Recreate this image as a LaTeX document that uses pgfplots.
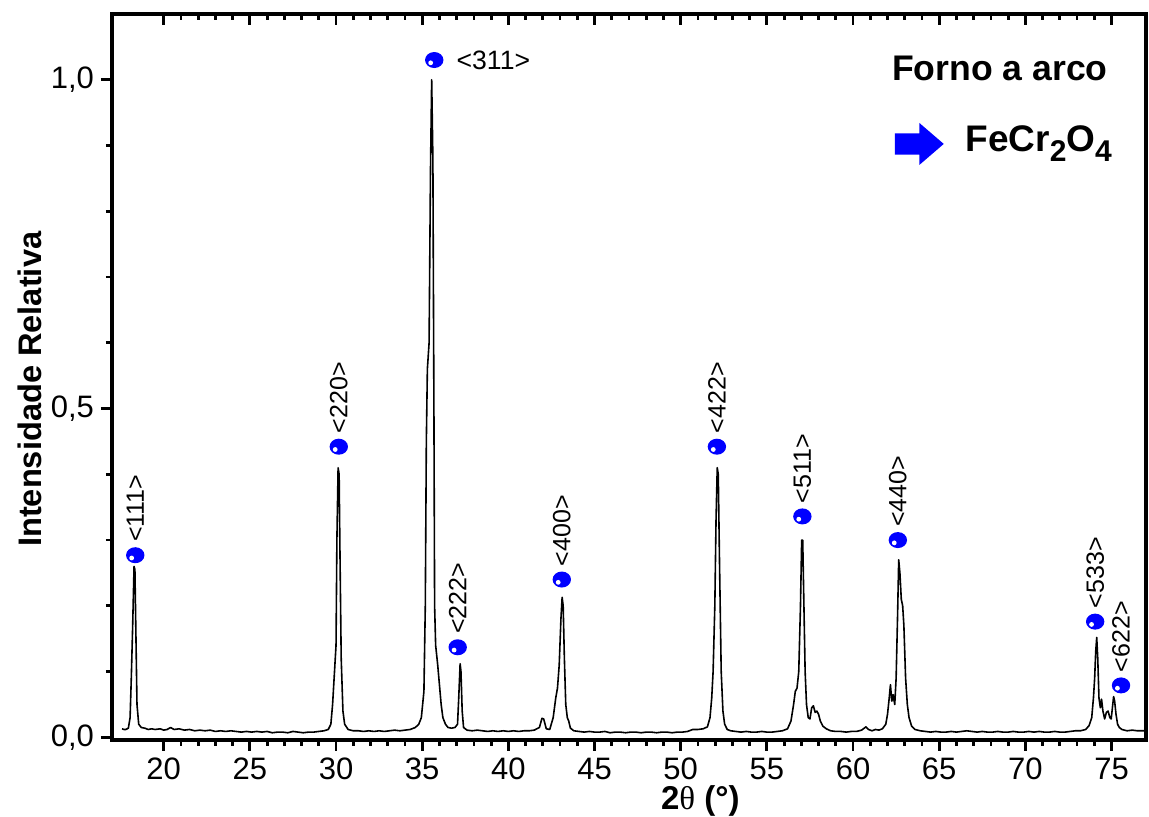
\documentclass[border=0pt]{standalone}
\usepackage{fontspec}
\setmainfont{Liberation Sans}
\newfontfamily\serifgreek{Liberation Serif}
\usepackage{pgfplots}
\pgfplotsset{compat=1.18}

\pgfdeclareplotmark{xrdball}{%
  \pgfsetfillcolor{blue}%
  \pgfpathellipse{\pgfpointorigin}{\pgfpoint{4.6pt}{0pt}}{\pgfpoint{0pt}{4pt}}%
  \pgfusepathqfill
  \pgfsetfillcolor{white}%
  \pgfpathcircle{\pgfpoint{-1.8pt}{-1.4pt}}{1.2pt}%
  \pgfusepathqfill
}
\newcommand{\lab}{\fontsize{12.5}{14}\selectfont}

\begin{document}
\begin{tikzpicture}
\useasboundingbox (-56pt,-38.5pt) rectangle (518.5pt,370pt);
\begin{axis}[
  scale only axis, width=517pt, height=363pt,
  at={(0,0)}, anchor=south west,
  xmin=17, xmax=77, ymin=-0.004, ymax=1.1,
  xtick={20,25,...,75}, minor x tick num=4,
  ytick={0,0.5,1}, minor y tick num=4,
  xtick pos=left, ytick pos=left,
  tick align=outside,
  major tick length=5.5pt, minor tick length=3pt,
  tick style={black, line width=1.4pt},
  axis line style={line width=1.6pt},
  /pgf/number format/assume math mode=true,
  tick label style={font=\fontsize{15.5}{18}\selectfont},
  yticklabel style={/pgf/number format/.cd, fixed, fixed zerofill, precision=1, use comma},
  xticklabel style={/pgf/number format/.cd, fixed, precision=0},
  xlabel={\bfseries 2{\serifgreek\mdseries θ} (°)},
  xlabel style={font=\fontsize{16.5}{19}\selectfont, at={(axis description cs:0.569,-0.084)}, anchor=center},
  ylabel={Intensidade Relativa},
  ylabel style={font=\bfseries\fontsize{16.3}{19}\selectfont, at={(axis description cs:-0.079,0.483)}, anchor=center},
  clip mode=individual,
]
\addplot[black, line width=0.8pt, line join=round] coordinates {
(17.58,0.013) (17.7,0.012) (17.8,0.012) (17.95,0.014) (18.05,0.03) (18.12,0.09) (18.2,0.17) (18.28,0.26) (18.33,0.255) (18.38,0.17) (18.45,0.05) (18.55,0.02) (18.7,0.015)
(18.9,0.014) (19.1,0.012) (19.3,0.013) (19.5,0.012) (19.8,0.013) (20.0,0.011) (20.2,0.012) (20.4,0.015) (20.6,0.012) (20.9,0.013) (21.2,0.011) (21.5,0.012) (21.8,0.010) (22.1,0.011) (22.4,0.010) (22.7,0.011) (23.0,0.009) (23.3,0.010) (23.6,0.009) (23.9,0.010) (24.2,0.009) (24.5,0.008) (24.8,0.009) (25.1,0.008) (25.4,0.009) (25.7,0.008) (26.0,0.009) (26.3,0.007) (26.6,0.008) (26.9,0.008) (27.2,0.007) (27.5,0.009) (27.8,0.008) (28.1,0.007) (28.4,0.008) (28.7,0.008) (29.0,0.009) (29.3,0.010) (29.55,0.012)
(29.7,0.02) (29.8,0.05) (29.9,0.095) (30.0,0.14) (30.05,0.3) (30.12,0.41) (30.18,0.40) (30.22,0.3) (30.3,0.12) (30.4,0.04) (30.5,0.02) (30.7,0.012) (31.0,0.010)
(31.3,0.010) (31.6,0.009) (31.9,0.010) (32.2,0.009) (32.5,0.010) (32.8,0.009) (33.1,0.010) (33.4,0.011) (33.7,0.010) (34.0,0.011) (34.3,0.012) (34.6,0.015)
(34.8,0.02) (34.95,0.03) (35.1,0.07) (35.18,0.2) (35.24,0.45) (35.3,0.56) (35.4,0.6) (35.48,0.86) (35.55,1.0) (35.62,0.88) (35.68,0.5) (35.72,0.2) (35.78,0.14) (35.9,0.11) (36.0,0.08) (36.1,0.05) (36.2,0.03) (36.35,0.02) (36.5,0.015) (36.7,0.014) (36.9,0.015) (37.05,0.02) (37.12,0.06) (37.2,0.112) (37.25,0.10) (37.32,0.04) (37.4,0.015) (37.6,0.011)
(37.9,0.010) (38.2,0.011) (38.5,0.010) (38.8,0.009) (39.1,0.010) (39.4,0.009) (39.7,0.010) (40.0,0.009) (40.3,0.010) (40.6,0.009) (40.9,0.010) (41.2,0.010) (41.5,0.011) (41.8,0.015) (41.95,0.029) (42.05,0.028) (42.2,0.013) (42.4,0.012) (42.6,0.03) (42.75,0.06) (42.85,0.075) (42.95,0.11) (43.05,0.18) (43.12,0.213) (43.18,0.2) (43.25,0.12) (43.33,0.05) (43.42,0.03) (43.5,0.025) (43.6,0.014) (43.8,0.010)
(44.1,0.009) (44.4,0.008) (44.7,0.009) (45.0,0.008) (45.3,0.008) (45.6,0.009) (45.9,0.007) (46.2,0.008) (46.5,0.008) (46.8,0.007) (47.1,0.008) (47.4,0.008) (47.7,0.007) (48.0,0.008) (48.3,0.008) (48.6,0.007) (48.9,0.008) (49.2,0.008) (49.5,0.007) (49.8,0.008) (50.1,0.008) (50.4,0.009) (50.7,0.012) (51.0,0.012) (51.3,0.013) (51.55,0.016)
(51.7,0.03) (51.8,0.06) (51.88,0.1) (51.98,0.2) (52.05,0.33) (52.12,0.41) (52.18,0.40) (52.25,0.27) (52.35,0.1) (52.45,0.04) (52.55,0.02) (52.7,0.012) (52.9,0.010)
(53.2,0.009) (53.5,0.008) (53.8,0.009) (54.1,0.008) (54.4,0.008) (54.7,0.009) (55.0,0.008) (55.3,0.008) (55.6,0.009) (55.9,0.010) (56.2,0.013)
(56.4,0.025) (56.55,0.05) (56.65,0.07) (56.75,0.075) (56.85,0.1) (56.95,0.2) (57.02,0.3) (57.08,0.3) (57.15,0.2) (57.22,0.1) (57.3,0.05) (57.4,0.03) (57.5,0.028) (57.6,0.045) (57.7,0.048) (57.8,0.038) (57.9,0.040) (58.0,0.035) (58.1,0.025) (58.25,0.017) (58.45,0.013) (58.7,0.010)
(59.0,0.009) (59.3,0.009) (59.6,0.008) (59.9,0.009) (60.2,0.009) (60.5,0.011) (60.75,0.016) (60.9,0.012) (61.1,0.010) (61.3,0.012) (61.5,0.011) (61.7,0.013) (61.9,0.02)
(62.0,0.035) (62.1,0.06) (62.17,0.08) (62.25,0.055) (62.32,0.065) (62.42,0.05) (62.5,0.09) (62.58,0.18) (62.65,0.27) (62.72,0.25) (62.8,0.21) (62.88,0.2) (62.95,0.17) (63.05,0.09) (63.15,0.05) (63.25,0.03) (63.4,0.017) (63.6,0.012)
(63.9,0.010) (64.2,0.009) (64.5,0.008) (64.8,0.009) (65.1,0.008) (65.4,0.008) (65.7,0.009) (66.0,0.008) (66.3,0.009) (66.6,0.010) (66.9,0.009) (67.2,0.008) (67.5,0.009) (67.8,0.008) (68.1,0.008) (68.4,0.009) (68.7,0.008) (69.0,0.008) (69.3,0.009) (69.6,0.008) (69.9,0.008) (70.2,0.009) (70.5,0.008) (70.8,0.009) (71.1,0.008) (71.4,0.008) (71.7,0.009) (72.0,0.008) (72.3,0.008) (72.6,0.009) (72.9,0.010) (73.2,0.010) (73.5,0.012)
(73.7,0.018) (73.85,0.03) (73.95,0.06) (74.02,0.09) (74.08,0.13) (74.14,0.152) (74.2,0.12) (74.27,0.06) (74.35,0.045) (74.42,0.058) (74.5,0.04) (74.6,0.028) (74.7,0.038) (74.8,0.04) (74.9,0.03) (74.98,0.028) (75.05,0.045) (75.12,0.062) (75.18,0.055) (75.26,0.035) (75.35,0.02) (75.45,0.015) (75.6,0.012) (75.9,0.010) (76.2,0.011) (76.5,0.010) (76.8,0.010) (77.0,0.010)
};
\addplot[only marks, mark=xrdball] coordinates {
(18.35,0.277) (30.16,0.442) (35.7,1.03) (37.06,0.137) (43.1,0.24) (52.1,0.442) (57.06,0.336) (62.6,0.3) (74.05,0.176) (75.55,0.079)
};
\node[yshift=6.5pt, rotate=90, anchor=west, inner sep=0pt, font=\lab] at (axis cs:18.35,0.277) {<111>};
\node[yshift=6.5pt, rotate=90, anchor=west, inner sep=0pt, font=\lab] at (axis cs:30.16,0.442) {<220>};
\node[xshift=11pt, anchor=west, inner sep=0pt, font=\fontsize{13.3}{15}\selectfont] at (axis cs:35.7,1.03) {<311>};
\node[yshift=6.5pt, rotate=90, anchor=west, inner sep=0pt, font=\lab] at (axis cs:37.06,0.137) {<222>};
\node[yshift=6.5pt, rotate=90, anchor=west, inner sep=0pt, font=\lab] at (axis cs:43.1,0.24) {<400>};
\node[yshift=6.5pt, rotate=90, anchor=west, inner sep=0pt, font=\lab] at (axis cs:52.1,0.442) {<422>};
\node[yshift=6.5pt, rotate=90, anchor=west, inner sep=0pt, font=\lab] at (axis cs:57.06,0.336) {<511>};
\node[yshift=6.5pt, rotate=90, anchor=west, inner sep=0pt, font=\lab] at (axis cs:62.6,0.3) {<440>};
\node[yshift=6.5pt, rotate=90, anchor=west, inner sep=0pt, font=\lab] at (axis cs:74.05,0.176) {<533>};
\node[yshift=6.5pt, rotate=90, anchor=west, inner sep=0pt, font=\lab] at (axis cs:75.55,0.079) {<622>};
% legend
\node[anchor=base west, inner sep=0pt, font=\bfseries\fontsize{17.8}{20}\selectfont] at (rel axis cs:0.754,0.909) {Forno a arco};
\coordinate (arr) at (rel axis cs:0.757,0.821);
\node[anchor=base west, inner sep=0pt, font=\bfseries\fontsize{18.5}{20}\selectfont] at (rel axis cs:0.825,0.811) {FeCr\raisebox{-5pt}{\fontsize{15}{16}\selectfont 2}O\raisebox{-5pt}{\fontsize{15}{16}\selectfont 4}};
\end{axis}
\fill[blue] ([shift={(0pt,-5.3pt)}]arr) -- ++(12.3pt,0) -- ++(0,-5.2pt) -- ++(12.2pt,10.5pt) -- ++(-12.2pt,10.5pt) -- ++(0,-5.2pt) -- ++(-12.3pt,0) -- cycle;
\begin{axis}[
  scale only axis, width=517pt, height=363pt,
  at={(0,0)}, anchor=south west,
  xmin=17, xmax=77, ymin=-0.004, ymax=1.1,
  axis x line*=top, axis y line=none,
  xtick={20,25,...,75}, minor x tick num=4,
  tick align=inside, xticklabels={},
  major tick length=5.5pt, minor tick length=3pt,
  tick style={black, line width=1.4pt},
  axis line style={line width=1.6pt},
]
\end{axis}
\end{tikzpicture}
\end{document}
